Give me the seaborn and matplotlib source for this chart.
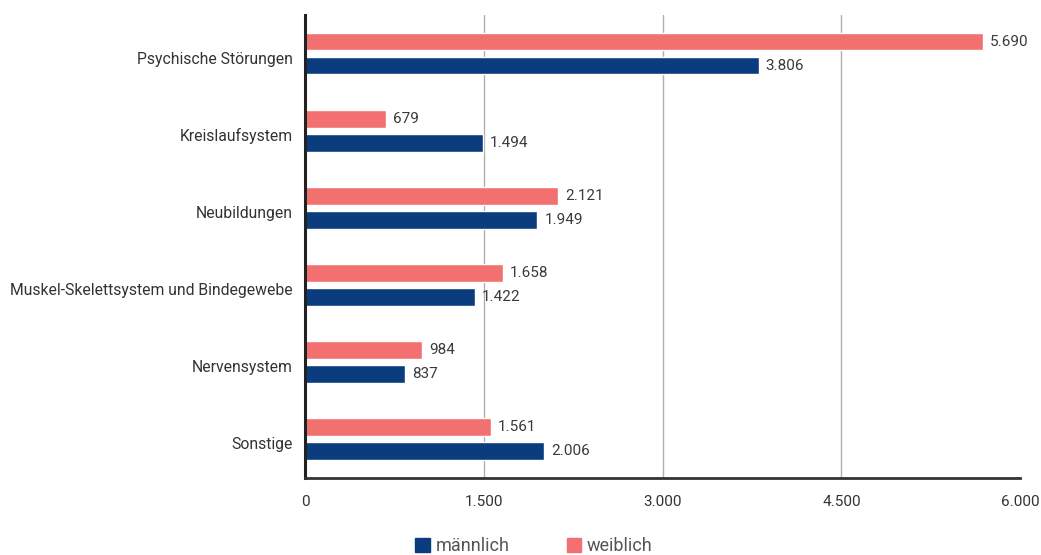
import numpy as np
import pandas as pd
import matplotlib
matplotlib.use("Agg")
import matplotlib.pyplot as plt
import matplotlib.transforms as mtransforms
import seaborn as sns
from matplotlib.patches import Patch
from matplotlib.ticker import FuncFormatter

# Daten
kategorien = [
    "Psychische Störungen",
    "Kreislaufsystem",
    "Neubildungen",
    "Muskel-Skelettsystem und Bindegewebe",
    "Nervensystem",
    "Sonstige",
]
weiblich = [5690, 679, 2121, 1658, 984, 1561]
maennlich = [3806, 1494, 1949, 1422, 837, 2006]

farbe_w = "#F27170"
farbe_m = "#0B3D7E"

df = pd.DataFrame({
    "Kategorie": kategorien * 2,
    "Wert": weiblich + maennlich,
    "Geschlecht": ["weiblich"] * len(kategorien) + ["männlich"] * len(kategorien),
})


def de_fmt(v, pos=None):
    return f"{int(round(v)):,}".replace(",", ".")


sns.set_style("white")
plt.rcParams["font.family"] = ["Roboto", "DejaVu Sans"]

fig = plt.figure(figsize=(10.41, 5.55), dpi=100)
ax = fig.add_axes([0.293, 0.139, 0.687, 0.834])

sns.barplot(
    data=df, y="Kategorie", x="Wert", hue="Geschlecht",
    hue_order=["weiblich", "männlich"],
    palette={"weiblich": farbe_w, "männlich": farbe_m},
    orient="h", width=0.62, gap=0.26, legend=False, ax=ax,
    saturation=1, errorbar=None,
)

for cont in ax.containers:
    ax.bar_label(cont, labels=[de_fmt(r.get_width()) for r in cont],
                 padding=5, fontsize=11, color="#3a3a3a")

ax.set_xlim(0, 6000)
ax.set_ylim(5.5, -0.5)
ax.set_xticks([0, 1500, 3000, 4500, 6000])
ax.xaxis.set_major_formatter(FuncFormatter(de_fmt))
ax.grid(axis="x", color="#b0b0b0", linewidth=1)
ax.set_axisbelow(True)
ax.xaxis.get_gridlines()[-1].set_visible(False)
ax.set_xlabel("")
ax.set_ylabel("")

for s in ["top", "right"]:
    ax.spines[s].set_visible(False)
ax.spines["left"].set_color("#222222")
ax.spines["left"].set_linewidth(2.2)
ax.spines["bottom"].set_color("#333333")
ax.spines["bottom"].set_linewidth(2)

ax.tick_params(axis="y", length=0, pad=9, labelsize=11.3, labelcolor="#333333")
ax.tick_params(axis="x", length=0, pad=12, labelsize=11, labelcolor="#333333")

# Kategorienamen leicht nach unten versetzt wie im Original
offset = mtransforms.ScaledTranslation(0, -4 / 100, fig.dpi_scale_trans)
for lbl in ax.get_yticklabels():
    lbl.set_transform(lbl.get_transform() + offset)

handles = [Patch(color=farbe_m, label="männlich"), Patch(color=farbe_w, label="weiblich")]
fig.legend(handles=handles, loc="center", bbox_to_anchor=(0.513, 0.016),
           ncol=2, frameon=False, fontsize=13, labelcolor="#555555",
           handlelength=0.8, handleheight=0.8, columnspacing=3.2, handletextpad=0.3)

fig.savefig("out.png", dpi=100)
